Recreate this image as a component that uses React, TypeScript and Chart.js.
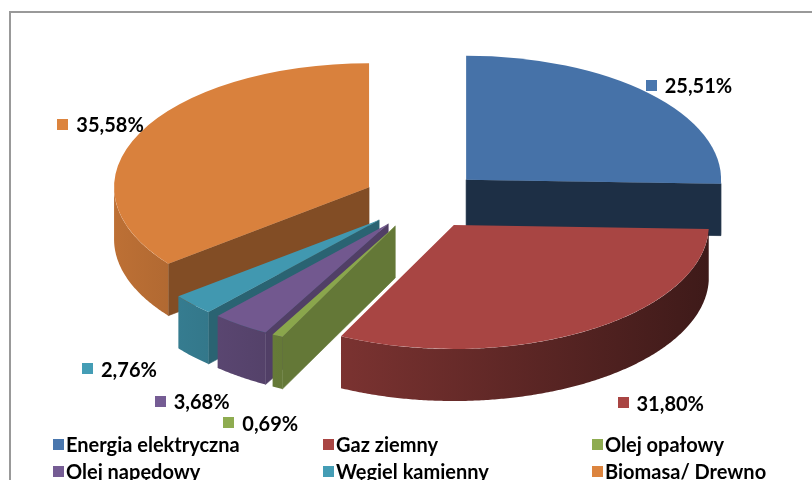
import React, { useEffect, useRef } from "react";
import { Chart, registerables } from "chart.js";

Chart.register(...registerables);

// ---- data ----
const categories = [
  "Energia elektryczna",
  "Gaz ziemny",
  "Olej opałowy",
  "Olej napędowy",
  "Węgiel kamienny",
  "Biomasa/ Drewno",
];
const shares = [25.51, 31.8, 0.69, 3.68, 2.76, 35.58];
const topColors = ["#4672a8", "#a84543", "#8aa64c", "#72588f", "#4198b0", "#d9813d"];
const legendColors = ["#4a77ae", "#a94543", "#8eac50", "#755c94", "#449db5", "#dc843e"];

// ---- style / layout constants ----
const RX = 255; // horizontal radius on screen
const RY = 124; // vertical radius on screen
const EXPLODE = 60; // explosion (horizontal screen px)
const DEPTH = 52; // extrusion depth
const FONT = "Lato, 'Open Sans', sans-serif";
const LEGEND_COLS = [53, 323, 592];
const LEGEND_ROWS = [445, 472];
// fine placement of the data labels (screen px) relative to the geometric anchor
const LABEL_NUDGE: [number, number][] = [
  [-6, -1],
  [43, 1],
  [10, 16],
  [-15, 7],
  [-31, -2],
  [18, -4],
];

const fmtPct = (v: number) => v.toFixed(2).replace(".", ",") + "%";

function shade(hex: string, f: number) {
  const n = parseInt(hex.slice(1), 16);
  const r = Math.min(255, Math.round(((n >> 16) & 255) * f));
  const g = Math.min(255, Math.round(((n >> 8) & 255) * f));
  const b = Math.min(255, Math.round((n & 255) * f));
  return `rgb(${r},${g},${b})`;
}

function geom(chart: any) {
  const arcs = chart.getDatasetMeta(0).data as any[];
  const a0 = arcs[0];
  const R = a0.outerRadius;
  const sx = RX / R;
  const sy = RY / R;
  return { cx: a0.x, cy: a0.y, R, sx, sy, E: EXPLODE / sx };
}

const midOf = (a: any) => (a.startAngle + a.endAngle) / 2;

function normDeg(d: number) {
  let x = d % 360;
  if (x > 180) x -= 360;
  if (x < -180) x += 360;
  return x;
}

const cutFactor = (nDeg: number) =>
  Math.max(0.3, Math.min(0.85, 0.85 - 0.0048 * Math.abs(normDeg(nDeg))));

function drawSides(ctx: CanvasRenderingContext2D, arc: any, g: any, color: string) {
  const s = arc.startAngle;
  const e = arc.endAngle;
  const m = (s + e) / 2;
  const R = arc.outerRadius;
  const ox = g.E * Math.cos(m);
  const oy = g.E * Math.sin(m);
  const P = (a: number, r: number, h: number): [number, number] => [
    g.cx + g.sx * (ox + r * Math.cos(a)),
    g.cy + g.sy * (oy + r * Math.sin(a)) + h,
  ];
  const quad = (pts: [number, number][], fill: string) => {
    ctx.beginPath();
    ctx.moveTo(pts[0][0], pts[0][1]);
    for (let i = 1; i < pts.length; i++) ctx.lineTo(pts[i][0], pts[i][1]);
    ctx.closePath();
    ctx.fillStyle = fill;
    ctx.fill();
    ctx.strokeStyle = fill;
    ctx.lineWidth = 0.6;
    ctx.stroke();
  };
  const D = DEPTH;
  const deg = 180 / Math.PI;
  if (Math.cos(s) < -1e-4) {
    quad([P(s, 0, 0), P(s, R, 0), P(s, R, D), P(s, 0, D)], shade(color, cutFactor(s * deg - 90)));
  }
  if (Math.cos(e) > 1e-4) {
    quad([P(e, 0, 0), P(e, R, 0), P(e, R, D), P(e, 0, D)], shade(color, cutFactor(e * deg + 90)));
  }
  // front-facing part of the curved outer wall
  const a0 = Math.max(s, 0);
  const a1 = Math.min(e, Math.PI);
  if (a1 > a0) {
    const steps = Math.max(4, Math.ceil((a1 - a0) / (Math.PI / 360)));
    ctx.beginPath();
    for (let k = 0; k <= steps; k++) {
      const a = a0 + ((a1 - a0) * k) / steps;
      const p = P(a, R, 0);
      if (k === 0) ctx.moveTo(p[0], p[1]);
      else ctx.lineTo(p[0], p[1]);
    }
    for (let k = steps; k >= 0; k--) {
      const a = a0 + ((a1 - a0) * k) / steps;
      const p = P(a, R, D);
      ctx.lineTo(p[0], p[1]);
    }
    ctx.closePath();
    const xl = P(Math.PI, R, 0)[0];
    const xr = P(0, R, 0)[0];
    const grad = ctx.createLinearGradient(xl, 0, xr, 0);
    grad.addColorStop(0, shade(color, 0.87));
    grad.addColorStop(1, shade(color, 0.37));
    ctx.fillStyle = grad;
    ctx.fill();
  }
}

const pie3d = {
  id: "pie3d",
  beforeDatasetsDraw(chart: any) {
    const arcs = chart.getDatasetMeta(0).data as any[];
    if (!arcs.length) return;
    const ctx: CanvasRenderingContext2D = chart.ctx;
    const g = geom(chart);
    const order = arcs
      .map((_, i) => i)
      .sort((i, j) => Math.sin(midOf(arcs[i])) - Math.sin(midOf(arcs[j])));
    ctx.save();
    for (const i of order) drawSides(ctx, arcs[i], g, topColors[i]);
    ctx.restore();
    ctx.save();
    ctx.translate(g.cx, g.cy);
    ctx.scale(g.sx, g.sy);
    ctx.translate(-g.cx, -g.cy);
    for (const i of order) {
      const a = arcs[i];
      const m = midOf(a);
      ctx.save();
      ctx.translate(g.E * Math.cos(m), g.E * Math.sin(m));
      a.draw(ctx, chart.chartArea);
      ctx.restore();
    }
    ctx.restore();
    return false;
  },
  afterDraw(chart: any) {
    const arcs = chart.getDatasetMeta(0).data as any[];
    if (!arcs.length) return;
    const ctx: CanvasRenderingContext2D = chart.ctx;
    const g = geom(chart);
    ctx.save();
    // data labels
    ctx.font = `bold 20px ${FONT}`;
    ctx.textBaseline = "middle";
    ctx.textAlign = "left";
    arcs.forEach((a, i) => {
      const m = midOf(a);
      const front = Math.sin(m) > 0;
      const r = a.outerRadius * 1.08;
      const ax = g.cx + g.sx * (g.E * Math.cos(m) + r * Math.cos(m));
      const ay =
        g.cy + g.sy * (g.E * Math.sin(m) + r * Math.sin(m)) + (front ? DEPTH + 12 * Math.sin(m) : 0);
      const txt = fmtPct(shares[i]);
      const tw = ctx.measureText(txt).width;
      const total = 11 + 8 + tw;
      const cxl = ax + (Math.cos(m) * total) / 2 + LABEL_NUDGE[i][0];
      const cyl = ay + LABEL_NUDGE[i][1];
      const left = cxl - total / 2;
      ctx.fillStyle = legendColors[i];
      ctx.fillRect(Math.round(left), Math.round(cyl - 6), 11, 11);
      ctx.fillStyle = "#000";
      ctx.fillText(txt, left + 19, cyl + 1);
    });
    // legend
    ctx.font = `bold 20px ${FONT}`;
    categories.forEach((c, i) => {
      const x = LEGEND_COLS[i % 3];
      const y = LEGEND_ROWS[Math.floor(i / 3)];
      ctx.fillStyle = legendColors[i];
      ctx.fillRect(x, y - 6, 11, 11);
      ctx.fillStyle = "#000";
      ctx.fillText(c, x + 13, y + 1);
    });
    ctx.restore();
  },
};

export default function App() {
  const ref = useRef<HTMLCanvasElement | null>(null);
  useEffect(() => {
    if (!ref.current) return;
    const chart = new Chart(ref.current, {
      type: "pie",
      data: {
        labels: categories,
        datasets: [
          {
            data: shares,
            backgroundColor: topColors,
            borderWidth: 0,
          },
        ],
      },
      options: {
        responsive: false,
        animation: false,
        devicePixelRatio: 1,
        events: [],
        layout: { padding: { left: 34, right: 0, top: 0, bottom: 80 } },
        plugins: { legend: { display: false }, tooltip: { enabled: false } },
      },
      plugins: [pie3d as any],
    });
    return () => chart.destroy();
  }, []);
  return (
    <div
      style={{
        position: "fixed",
        left: 0,
        top: 0,
        width: 812,
        height: 480,
        overflow: "hidden",
        background: "#fff",
      }}
    >
      <div
        style={{
          position: "absolute",
          left: 9,
          top: 11,
          width: 900,
          height: 700,
          border: "2px solid #999",
          boxSizing: "border-box",
        }}
      />
      <canvas ref={ref} width={812} height={480} style={{ position: "absolute", left: 0, top: 0 }} />
    </div>
  );
}
